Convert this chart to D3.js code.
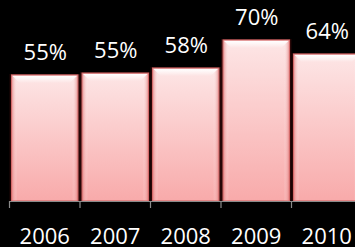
<!DOCTYPE html>
<html lang="en">
<head>
<script src="https://d3js.org/d3.v7.min.js"></script>
<style>
  html, body { margin: 0; padding: 0; background: #000; }
</style>
</head>
<body>
<script>
// data
const years = ["2006", "2007", "2008", "2009", "2010"];
const shares = [54.8, 55.6, 57.8, 70, 63.9];
const labels = ["55%", "55%", "58%", "70%", "64%"];

const width = 355, height = 247;
const svg = d3.select("body").append("svg")
    .attr("width", width)
    .attr("height", height)
    .style("display", "block")
    .style("background", "#000");

const defs = svg.append("defs");
const grad = defs.append("linearGradient")
    .attr("id", "barFill")
    .attr("x1", 0).attr("y1", 0).attr("x2", 0).attr("y2", 1);
grad.append("stop").attr("offset", "0%").attr("stop-color", "#fde6e6");
grad.append("stop").attr("offset", "100%").attr("stop-color", "#f8aaaa");

const side = defs.append("linearGradient")
    .attr("id", "sideShade")
    .attr("x1", 0).attr("y1", 0).attr("x2", 1).attr("y2", 0);
side.append("stop").attr("offset", "0%").attr("stop-color", "#e07777").attr("stop-opacity", 0.6);
side.append("stop").attr("offset", "8%").attr("stop-color", "#ffffff").attr("stop-opacity", 0);
side.append("stop").attr("offset", "92%").attr("stop-color", "#ffffff").attr("stop-opacity", 0);
side.append("stop").attr("offset", "100%").attr("stop-color", "#e07777").attr("stop-opacity", 0.6);

const shine = defs.append("linearGradient")
    .attr("id", "topShine")
    .attr("x1", 0).attr("y1", 0).attr("x2", 0).attr("y2", 1);
shine.append("stop").attr("offset", "0%").attr("stop-color", "#ffffff").attr("stop-opacity", 1);
shine.append("stop").attr("offset", "100%").attr("stop-color", "#ffffff").attr("stop-opacity", 0);

const x = d3.scaleBand()
    .domain(years)
    .range([9.5, 9.5 + 70.5 * years.length])
    .paddingInner(0.06)
    .paddingOuter(0.03);

const y = d3.scaleLinear()
    .domain([0, 80])
    .range([201, 17]);

const bars = svg.append("g").selectAll("g")
    .data(years)
    .join("g");

// dark shadow behind each bar
bars.append("rect")
    .attr("x", d => x(d) - 2)
    .attr("y", (d, i) => y(shares[i]) - 1)
    .attr("width", x.bandwidth() + 4)
    .attr("height", (d, i) => y(0) - y(shares[i]) + 1)
    .attr("fill", "#2a0808");

bars.append("rect")
    .attr("x", d => x(d))
    .attr("y", (d, i) => y(shares[i]))
    .attr("width", x.bandwidth())
    .attr("height", (d, i) => y(0) - y(shares[i]))
    .attr("fill", "url(#barFill)")
    .attr("stroke", "#d46a6a")
    .attr("stroke-width", 1.2);

bars.append("rect")
    .attr("x", d => x(d) + 0.6)
    .attr("y", (d, i) => y(shares[i]) + 0.6)
    .attr("width", x.bandwidth() - 1.2)
    .attr("height", (d, i) => y(0) - y(shares[i]) - 1.2)
    .attr("fill", "url(#sideShade)");

// top bevel highlight
bars.append("path")
    .attr("d", (d, i) => {
        const x0 = x(d) + 1, x1 = x(d) + x.bandwidth() - 1, t = y(shares[i]) + 1;
        return `M${x0},${t}L${x1},${t}L${x1 - 7},${t + 7}L${x0 + 7},${t + 7}Z`;
    })
    .attr("fill", "url(#topShine)");

// value labels
svg.append("g").selectAll("text")
    .data(years)
    .join("text")
    .attr("x", d => x(d) + x.bandwidth() / 2 + 0.5)
    .attr("y", (d, i) => y(shares[i]) - 15)
    .attr("text-anchor", "middle")
    .attr("fill", "#fff")
    .style("font-family", "'Open Sans', sans-serif")
    .style("font-size", "22px")
    .text((d, i) => labels[i]);

// x axis
const axis = svg.append("g")
    .attr("transform", "translate(0,201)")
    .call(d3.axisBottom(x).tickSize(0).tickPadding(27))
    .call(g => g.select(".domain").attr("stroke", "#8a8a8a").attr("stroke-width", 1.2));
axis.selectAll("text")
    .attr("fill", "#fff")
    .style("font-family", "'Open Sans', sans-serif")
    .style("font-size", "22px");

// boundary ticks between categories
const edges = years.map(d => x(d) - x.step() * x.paddingInner() / 2);
svg.append("g").selectAll("line")
    .data(edges)
    .join("line")
    .attr("x1", d => d).attr("x2", d => d)
    .attr("y1", 201).attr("y2", 208)
    .attr("stroke", "#8a8a8a")
    .attr("stroke-width", 1.2);
</script>
</body>
</html>
